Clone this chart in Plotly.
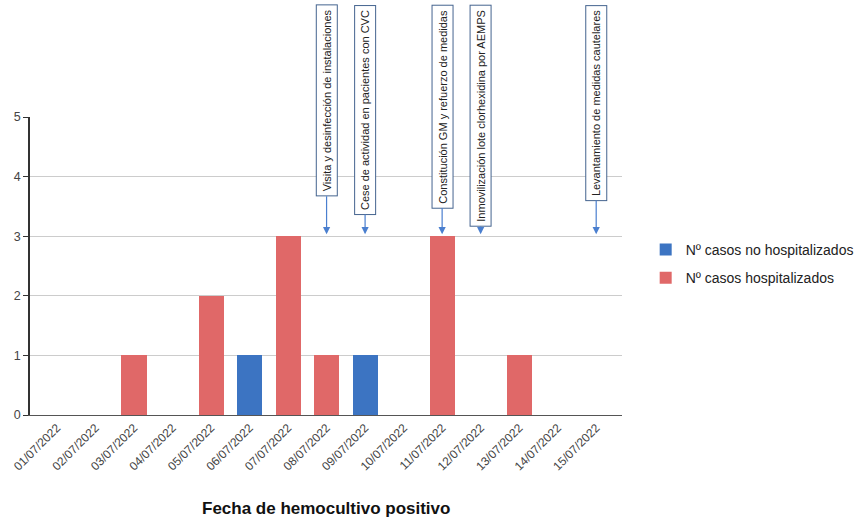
import plotly.graph_objects as go

dates = ["01/07/2022", "02/07/2022", "03/07/2022", "04/07/2022", "05/07/2022",
         "06/07/2022", "07/07/2022", "08/07/2022", "09/07/2022", "10/07/2022",
         "11/07/2022", "12/07/2022", "13/07/2022", "14/07/2022", "15/07/2022"]
no_hosp = [None, None, None, None, None, 1, None, None, 1, None, None, None, None, None, None]
hosp = [None, None, 1, None, 2, None, 3, 1, None, None, 3, None, 1, None, None]

event_dates = ["08/07/2022", "09/07/2022", "11/07/2022", "12/07/2022", "15/07/2022"]
event_texts = ["Visita y desinfección de instalaciones",
               "Cese de actividad en pacientes con CVC",
               "Constitución GM y refuerzo de medidas",
               "Inmovilización lote clorhexidina por AEMPS",
               "Levantamiento de medidas cautelares"]
event_y = 3

W, H = 861, 519
ML, MR, MT, MB = 30, 239, 117, 104
plot_h = H - MT - MB
tip_px = MT + plot_h * (5 - event_y) / 5 - 2
FONT_SIZE = 11

# Arial / Liberation Sans advance widths (per 1000 em) for measuring label boxes
_w = {" ": 278, "a": 556, "b": 556, "c": 500, "d": 556, "e": 556, "f": 278, "g": 556,
      "h": 556, "i": 222, "j": 222, "k": 500, "l": 222, "m": 833, "n": 556, "o": 556,
      "p": 556, "q": 556, "r": 333, "s": 500, "t": 278, "u": 556, "v": 500, "w": 722,
      "x": 500, "y": 500, "z": 500, "ó": 556, "é": 556, "C": 722, "V": 667, "G": 778,
      "M": 833, "A": 667, "E": 667, "P": 667, "S": 667, "L": 556, "I": 278}


def text_len(s):
    return sum(_w.get(ch, 556) for ch in s) * FONT_SIZE / 1000.0


fig = go.Figure()
fig.add_trace(go.Bar(x=dates, y=no_hosp, name="Nº casos no hospitalizados",
                     marker=dict(color="#3c74c2", line=dict(width=0)), width=0.65,
                     legendgroup="a"))
fig.add_trace(go.Bar(x=dates, y=hosp, name="Nº casos hospitalizados",
                     marker=dict(color="#e06868", line=dict(width=0)), width=0.65,
                     legendgroup="b"))

for d, t in zip(event_dates, event_texts):
    box_h = text_len(t) + 10
    center = 5 + box_h / 2
    fig.add_annotation(x=d, y=event_y, yshift=2, text=t, textangle=-90,
                       showarrow=True, arrowhead=2, arrowsize=1.2, arrowwidth=1.2,
                       arrowcolor="#4a7fcf", axref="pixel", ayref="pixel",
                       ax=0, ay=-(tip_px - center),
                       bgcolor="white", bordercolor="#45648f", borderwidth=1,
                       borderpad=4,
                       font=dict(family="Arial, Liberation Sans, sans-serif",
                                 size=FONT_SIZE, color="#222"))

fig.add_annotation(x=0.5, y=-(508 - (H - MB)) / plot_h, xref="paper", yref="paper",
                   yanchor="middle", xanchor="center",
                   text="<b>Fecha de hemocultivo positivo</b>", showarrow=False,
                   font=dict(family="Arial, Liberation Sans, sans-serif", size=17, color="#111"))

fig.update_layout(
    width=W, height=H,
    margin=dict(l=ML, r=MR, t=MT, b=MB, autoexpand=False),
    paper_bgcolor="white", plot_bgcolor="white",
    barmode="stack",
    font=dict(family="Arial, Liberation Sans, sans-serif", color="#444"),
    showlegend=True,
    legend=dict(x=1.04, y=0.507, xanchor="left", yanchor="middle",
                font=dict(size=14, color="#222"), tracegroupgap=7,
                traceorder="grouped"),
    xaxis=dict(type="category", range=[-0.7, 14.67], tickangle=-45,
               tickfont=dict(size=12, color="#444"), showgrid=False,
               showline=True, linecolor="#555", linewidth=1.2, automargin=False),
    yaxis=dict(range=[0, 5], dtick=1, showgrid=True, gridcolor="#cccccc",
               showline=True, linecolor="#333", linewidth=1.5,
               ticks="outside", ticklen=5, tickcolor="#333", automargin=False,
               tickfont=dict(size=12.5, color="#444"), zeroline=False),
)

fig.write_html("out.html", config={"displayModeBar": False},
               post_script="document.body.style.margin='0px';document.body.style.overflow='hidden';")
